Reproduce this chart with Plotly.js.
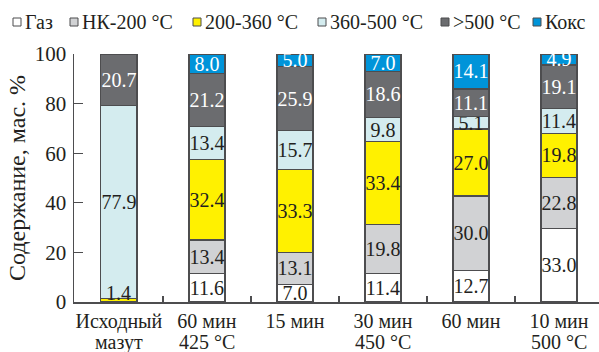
<!DOCTYPE html>
<html>
<head>
<meta charset="utf-8">
<script src="https://cdn.plot.ly/plotly-3.0.1.min.js"></script>
<style>html,body{margin:0;padding:0;background:#fff;}#chart{width:599px;height:352px;}</style>
</head>
<body>
<div id="chart"></div>
<script>
// Categories (x positions), first-line tick labels and second-line labels
const categories = ['c0', 'c1', 'c2', 'c3', 'c4', 'c5'];
const tickLabels = ['Исходный', '60 мин', '15 мин', '30 мин', '60 мин', '10 мин'];
const secondLine = ['мазут', '425 °C', '', '450 °C', '', '500 °C'];

// Series names
const seriesNames = ['Газ', 'НК-200 °C', '200-360 °C', '360-500 °C', '>500 °C', 'Кокс'];

// Drawn segment heights, mass % (last bar drawn normalised to 100)
const gas      = [0,    11.6, 7.0,  11.4, 12.7, 29.6];
const nk200    = [0,    13.4, 13.1, 19.8, 30.0, 20.6];
const f200_360 = [1.4,  32.4, 33.3, 33.4, 27.0, 17.8];
const f360_500 = [77.9, 13.4, 15.7, 9.8,  5.1,  10.1];
const f500     = [20.7, 21.2, 25.9, 18.6, 11.1, 17.5];
const coke     = [0,    8.0,  5.0,  7.0,  14.1, 4.4];

// Printed labels on the segments
const gasLbl      = ['',     '11.6', '7.0',  '11.4', '12.7', '33.0'];
const nk200Lbl    = ['',     '13.4', '13.1', '19.8', '30.0', '22.8'];
const f200_360Lbl = ['1.4',  '32.4', '33.3', '33.4', '27.0', '19.8'];
const f360_500Lbl = ['77.9', '13.4', '15.7', '9.8',  '5.1',  '11.4'];
const f500Lbl     = ['20.7', '21.2', '25.9', '18.6', '11.1', '19.1'];
const cokeLbl     = ['',     '8.0',  '5.0',  '7.0',  '14.1', '4.9'];

const values = [gas, nk200, f200_360, f360_500, f500, coke];
const labels = [gasLbl, nk200Lbl, f200_360Lbl, f360_500Lbl, f500Lbl, cokeLbl];
const colors = ['#ffffff', '#d1d2d4', '#fff100', '#d4ecef', '#6b6c6f', '#0094d9'];
const textColors = ['#231f20', '#231f20', '#231f20', '#231f20', '#ffffff', '#ffffff'];
const LINE = '#4d4d4f';
const INK = '#231f20';

const FONT = '"Liberation Serif", "Times New Roman", serif';

// A thin segment's label is drawn as an annotation instead (too small to hold it)
function tooThin(v) { return v > 0 && v < 4; }

const traces = values.map((v, i) => ({
  type: 'bar',
  name: seriesNames[i],
  x: categories,
  y: v,
  text: labels[i].map((t, j) => tooThin(v[j]) ? '' : t),
  texttemplate: '%{text}',
  textposition: 'inside',
  insidetextanchor: 'middle',
  textangle: 0,
  constraintext: 'none',
  textfont: {family: FONT, size: 20, color: textColors[i]},
  marker: {color: colors[i], line: {color: LINE, width: 1.3}},
  showlegend: false,
  hoverinfo: 'skip'
}));

// Pixel geometry of plot area
const W = 599, H = 352, ML = 74, MR = 0, MT = 54, MB = 50;
const PW = W - ML - MR, PH = H - MT - MB;
const px2x = p => (p - ML) / PW;
const py2y = p => (H - MB - p) / PH;

const annotations = [];
const shapes = [];

// Labels for thin segments
values.forEach((v, i) => {
  v.forEach((val, j) => {
    if (tooThin(val)) {
      let base = 0;
      for (let k = 0; k < i; k++) base += values[k][j];
      annotations.push({
        x: categories[j], y: base + val / 2, xref: 'x', yref: 'y',
        text: labels[i][j], showarrow: false, yshift: 7,
        font: {family: FONT, size: 20, color: textColors[i]}
      });
    }
  });
});

// Second line of category labels
secondLine.forEach((t, j) => {
  if (!t) return;
  annotations.push({
    x: categories[j], y: py2y(342), xref: 'x', yref: 'paper',
    text: t, showarrow: false, yanchor: 'middle',
    font: {family: FONT, size: 20, color: INK}
  });
});

// Legend drawn as squares + text at the reference positions
const legendSquareX = [13, 70, 193, 318, 441, 533];
const legendTextX = [23, 80, 203, 328, 451, 543];
const legendY = 22;
seriesNames.forEach((n, i) => {
  shapes.push({
    type: 'rect', xref: 'paper', yref: 'paper',
    x0: px2x(legendSquareX[i]), x1: px2x(legendSquareX[i] + 8),
    y0: py2y(legendY + 4), y1: py2y(legendY - 4),
    fillcolor: colors[i], line: {color: LINE, width: 1}
  });
  annotations.push({
    x: px2x(legendTextX[i]), y: py2y(legendY), xref: 'paper', yref: 'paper',
    xanchor: 'left', yanchor: 'middle', showarrow: false,
    text: n, font: {family: FONT, size: 20, color: INK}
  });
});

const layout = {
  width: W, height: H,
  margin: {l: ML, r: MR, t: MT, b: MB, pad: 0},
  paper_bgcolor: '#ffffff', plot_bgcolor: '#ffffff',
  barmode: 'stack',
  bargap: 0.59,
  font: {family: FONT, color: INK},
  showlegend: false,
  xaxis: {
    type: 'category',
    range: [-0.51, 5.455],
    tickvals: categories, ticktext: tickLabels,
    tickangle: 0,
    tickson: 'boundaries',
    ticks: 'inside', ticklen: 6, tickwidth: 1.3, tickcolor: LINE,
    showline: true, linecolor: LINE, linewidth: 1.5,
    showgrid: false, zeroline: false,
    tickfont: {family: FONT, size: 20, color: INK},
    ticklabelstandoff: 0,
    automargin: false,
    fixedrange: true
  },
  yaxis: {
    range: [0, 100],
    tickvals: [0, 20, 40, 60, 80, 100],
    ticks: 'inside', ticklen: 9, tickwidth: 1.3, tickcolor: LINE,
    showline: true, linecolor: LINE, linewidth: 1.5,
    showgrid: false, zeroline: false,
    tickfont: {family: FONT, size: 21, color: INK},
    ticklabelstandoff: 2,
    automargin: false,
    title: {text: 'Содержание, мас. %', font: {family: FONT, size: 24, color: INK}, standoff: 2},
    fixedrange: true
  },
  shapes: shapes,
  annotations: annotations
};

Plotly.newPlot('chart', traces, layout, {displayModeBar: false, staticPlot: true});
</script>
</body>
</html>
